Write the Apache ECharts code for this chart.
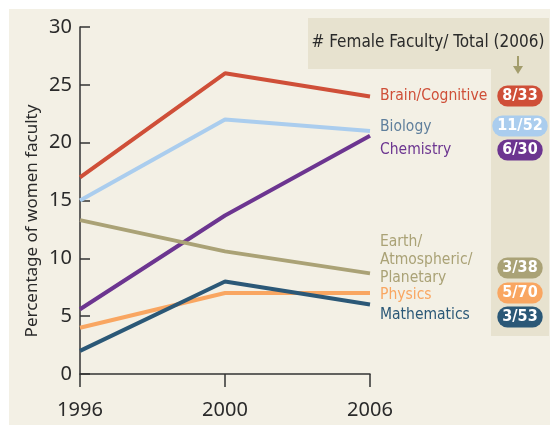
<!DOCTYPE html>
<html>
<head>
<meta charset="utf-8">
<script src="https://cdn.jsdelivr.net/npm/echarts@6/dist/echarts.min.js"></script>
<style>
  html, body { margin: 0; padding: 0; background: #fff; }
  #chart { width: 559px; height: 425px; }
</style>
</head>
<body>
<div id="chart"></div>
<script>
const years = ['1996', '2000', '2006']
const fields = ['Brain/Cognitive', 'Biology', 'Chemistry', 'Earth/\nAtmospheric/\nPlanetary', 'Physics', 'Mathematics']
const brain = [17, 26, 24]
const biology = [15, 22, 21]
const chemistry = [5.6, 13.7, 20.6]
const earth = [13.3, 10.6, 8.7]
const physics = [4, 7, 7]
const maths = [2, 8, 6]
const counts = ['8/33', '11/52', '6/30', '3/38', '5/70', '3/53']

const values = [brain, biology, chemistry, earth, physics, maths]
const colors = ['#cf4f38', '#aacdee', '#6c3590', '#aaa276', '#f9a661', '#2b5877']
const labelColors = ['#cf4f38', '#5f7f9c', '#6c3590', '#aaa276', '#f9a661', '#2b5877']
// label nudges relative to the 2006 end point
const labelOffsets = [[0, 0], [0, -4], [0, 14], [0, -13], [0, 2], [0, 10]]
const badgeY = [96, 126, 150, 268, 293, 317]

const narrow = "'Liberation Sans Narrow', 'DejaVu Sans Condensed', sans-serif"

const chart = echarts.init(document.getElementById('chart'))

const series = values.map((v, i) => ({
  name: fields[i],
  type: 'line',
  data: v,
  symbol: 'none',
  lineStyle: { color: colors[i], width: 4 },
  endLabel: {
    show: true,
    formatter: fields[i],
    distance: 10,
    offset: labelOffsets[i],
    color: labelColors[i],
    fontFamily: narrow,
    fontSize: 15.5,
    lineHeight: 18,
    align: 'left',
    verticalAlign: 'middle'
  },
  animation: false,
  z: 3
}))

const badges = counts.map((c, i) => ({
  type: 'text',
  x: 520,
  y: badgeY[i],
  z: 20,
  style: {
    text: c,
    fill: '#fff',
    font: 'bold 16px ' + narrow,
    align: 'center',
    verticalAlign: 'middle',
    backgroundColor: colors[i],
    borderRadius: 10,
    padding: [3, 5, 2, 5]
  }
}))

chart.setOption({
  backgroundColor: '#fff',
  animation: false,
  grid: { left: 80, right: 189, top: 27, bottom: 51, containLabel: false },
  xAxis: {
    type: 'category',
    data: years,
    boundaryGap: false,
    axisLine: { lineStyle: { color: '#333', width: 1.5 } },
    axisTick: { show: true, length: 13, alignWithLabel: true, lineStyle: { color: '#333', width: 1.5 } },
    axisLabel: { color: '#2a2a2a', fontSize: 20, margin: 26, fontFamily: "'Noto Sans', sans-serif" },
    splitLine: { show: false }
  },
  yAxis: {
    type: 'value',
    min: 0,
    max: 30,
    interval: 5,
    axisLine: { show: true, lineStyle: { color: '#333', width: 1.5 } },
    axisTick: { show: true, inside: true, length: 10, lineStyle: { color: '#333', width: 1.5 } },
    axisLabel: { color: '#2a2a2a', fontSize: 20, margin: 8, fontFamily: "'Noto Sans', sans-serif" },
    splitLine: { show: false }
  },
  graphic: [
    { type: 'rect', shape: { x: 9, y: 9, width: 541, height: 416 }, style: { fill: '#f3f0e5' }, z: -10 },
    { type: 'rect', shape: { x: 308, y: 18, width: 241, height: 51 }, style: { fill: '#e7e2cf' }, z: -9 },
    { type: 'rect', shape: { x: 491, y: 69, width: 58, height: 267 }, style: { fill: '#e7e2cf' }, z: -9 },
    {
      type: 'text', x: 428, y: 43, z: 10,
      style: { text: '# Female Faculty/ Total (2006)', fill: '#2a2a2a', font: '17px ' + narrow, align: 'center', verticalAlign: 'middle' }
    },
    { type: 'line', shape: { x1: 518, y1: 56, x2: 518, y2: 67 }, style: { stroke: '#a39d6c', lineWidth: 2 }, z: 10 },
    { type: 'polygon', shape: { points: [[513, 66], [523, 66], [518, 74]] }, style: { fill: '#a39d6c' }, z: 10 },
    {
      type: 'text', x: 32, y: 221, rotation: Math.PI / 2, z: 10,
      style: { text: 'Percentage of women faculty', fill: '#2a2a2a', font: "17px 'Noto Sans', sans-serif", align: 'center', verticalAlign: 'middle' }
    }
  ].concat(badges),
  series: series
})
</script>
</body>
</html>
